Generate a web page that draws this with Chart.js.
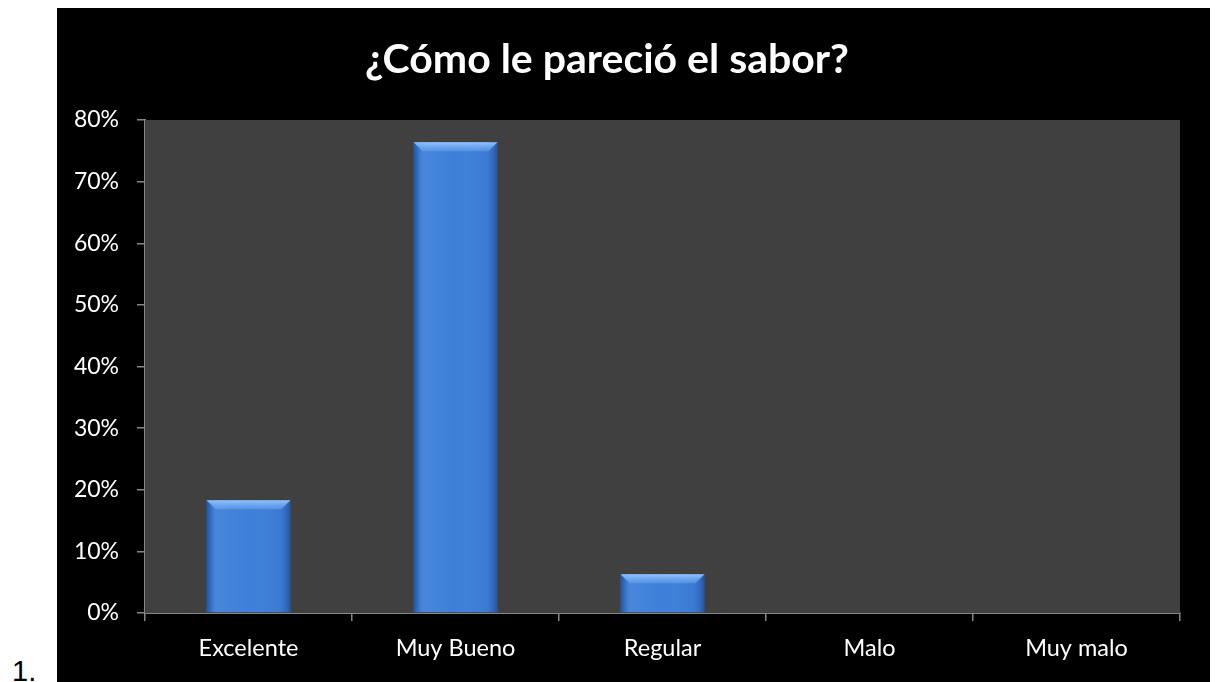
<!DOCTYPE html>
<html>
<head>
<meta charset="utf-8">
<script src="https://cdn.jsdelivr.net/npm/chart.js@4.4.1/dist/chart.umd.min.js"></script>
<style>
  html, body { margin: 0; padding: 0; background: #ffffff; }
  body { width: 1216px; height: 682px; position: relative; overflow: hidden; }
  #num { position: absolute; left: 12px; top: 657px; font: 29px/29px "Liberation Sans", Arial, sans-serif; color: #000; }
  #frame { position: absolute; left: 57px; top: 8px; width: 1153px; height: 674px; background: #000000; }
  #title { position: absolute; left: 0; top: 33px; width: 1214px; text-align: center;
           font: bold 41px/50px Lato, sans-serif; color: #ffffff; white-space: nowrap; }
  #chart { display: block; }
</style>
</head>
<body>
<div id="num">1.</div>
<div id="frame"><canvas id="chart" width="1153" height="674"></canvas></div>
<div id="title"></div>
<script>
// Survey answers and the share of respondents for each one
const categories = ['Excelente', 'Muy Bueno', 'Regular', 'Malo', 'Muy malo'];
const shares = [0.183, 0.764, 0.063, 0, 0];
const yTickLabels = ['0%', '10%', '20%', '30%', '40%', '50%', '60%', '70%', '80%'];
const chartTitle = '¿Cómo le pareció el sabor?';

document.getElementById('title').textContent = chartTitle;

const axisGray = '#868686';

// Dark gray plot area behind the bars
const plotBackground = {
  id: 'plotBackground',
  beforeDatasetsDraw(chart) {
    const { ctx, chartArea: a } = chart;
    ctx.save();
    ctx.fillStyle = '#404040';
    ctx.fillRect(a.left, a.top, a.right - a.left, a.bottom - a.top);
    ctx.restore();
  }
};

// Beveled look on each bar: darker side edges and a lighter top facet
const barBevel = {
  id: 'barBevel',
  afterDatasetsDraw(chart) {
    const { ctx } = chart;
    const meta = chart.getDatasetMeta(0);
    ctx.save();
    meta.data.forEach((el) => {
      const { x, y, base, width } = el.getProps(['x', 'y', 'base', 'width'], true);
      const h = base - y;
      if (h < 1) return;
      const left = x - width / 2;
      const g = ctx.createLinearGradient(left, 0, left + width, 0);
      g.addColorStop(0, 'rgba(10,30,80,0.45)');
      g.addColorStop(0.06, 'rgba(10,30,80,0.12)');
      g.addColorStop(0.12, 'rgba(255,255,255,0.06)');
      g.addColorStop(0.5, 'rgba(255,255,255,0.0)');
      g.addColorStop(0.88, 'rgba(10,30,80,0.05)');
      g.addColorStop(0.95, 'rgba(10,30,80,0.22)');
      g.addColorStop(1, 'rgba(10,30,80,0.45)');
      ctx.fillStyle = g;
      ctx.fillRect(left, y, width, h);

      const b = Math.min(9, h / 2);
      const tg = ctx.createLinearGradient(0, y, 0, y + b);
      tg.addColorStop(0, 'rgba(150,200,255,0.95)');
      tg.addColorStop(1, 'rgba(110,165,240,0.5)');
      ctx.beginPath();
      ctx.moveTo(left, y);
      ctx.lineTo(left + width, y);
      ctx.lineTo(left + width - b, y + b);
      ctx.lineTo(left + b, y + b);
      ctx.closePath();
      ctx.fillStyle = tg;
      ctx.fill();
    });
    ctx.restore();
  }
};

new Chart(document.getElementById('chart'), {
  type: 'bar',
  data: {
    labels: categories,
    datasets: [{
      data: shares,
      backgroundColor: '#3d7fd9',
      borderWidth: 0,
      barPercentage: 0.405,
      categoryPercentage: 1.0
    }]
  },
  options: {
    responsive: false,
    animation: false,
    layout: { padding: { left: 0, right: 30, top: 112, bottom: 0 } },
    plugins: {
      legend: { display: false },
      tooltip: { enabled: false },
      title: { display: false }
    },
    scales: {
      x: {
        offset: true,
        afterFit(scale) { scale.height = 69; },
        grid: {
          display: true,
          offset: true,
          drawOnChartArea: false,
          drawTicks: true,
          tickLength: 8,
          color: axisGray,
          lineWidth: 1.5
        },
        border: { display: true, color: axisGray, width: 2 },
        ticks: {
          color: '#ffffff',
          font: { family: 'Lato', size: 23.5 },
          padding: 13,
          maxRotation: 0
        }
      },
      y: {
        min: 0,
        max: 0.8,
        afterFit(scale) { scale.width = 88; },
        grid: {
          display: true,
          drawOnChartArea: false,
          drawTicks: true,
          tickLength: 8,
          color: axisGray,
          lineWidth: 1.5
        },
        border: { display: true, color: axisGray, width: 2 },
        ticks: {
          stepSize: 0.1,
          color: '#ffffff',
          font: { family: 'Lato', size: 23 },
          padding: 18,
          callback: (v, i) => yTickLabels[i]
        }
      }
    }
  },
  plugins: [plotBackground, barBevel]
});
</script>
</body>
</html>
